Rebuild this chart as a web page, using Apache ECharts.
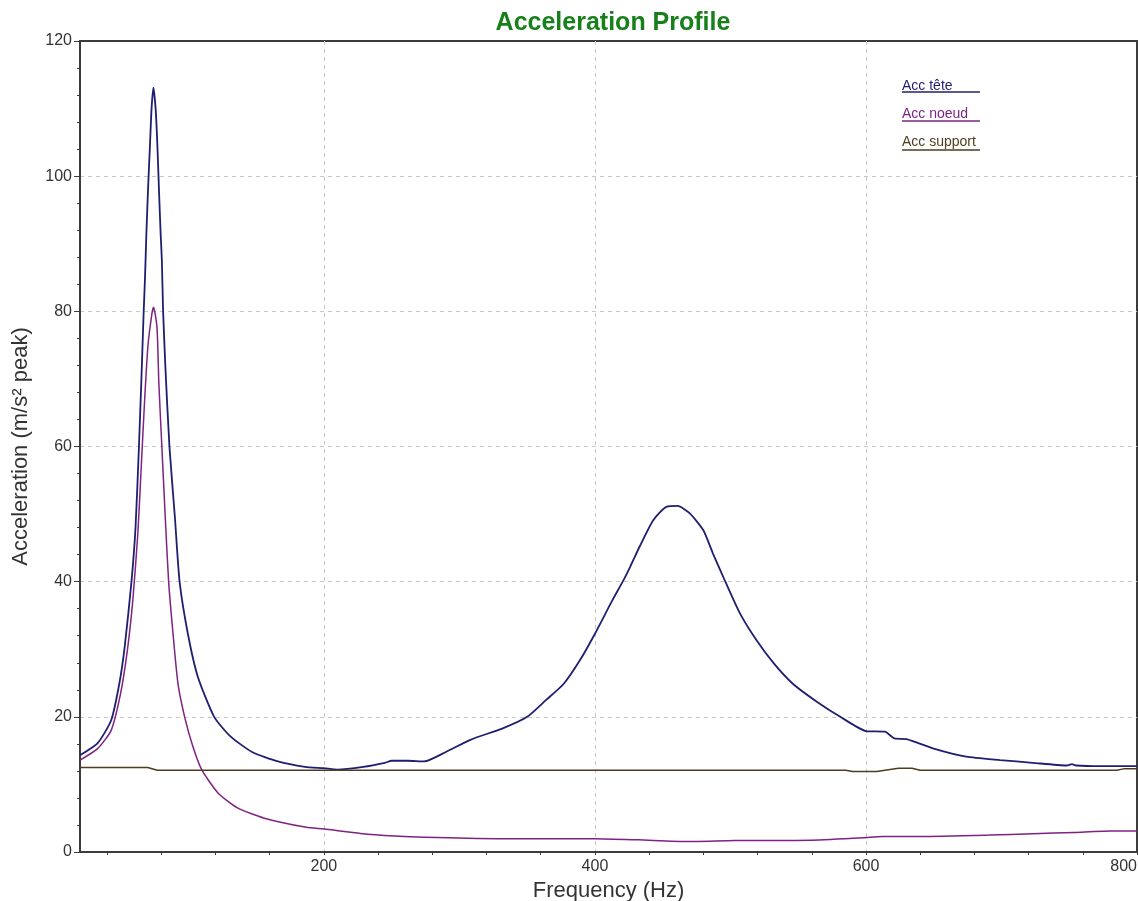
<!DOCTYPE html>
<html>
<head>
<meta charset="utf-8">
<title>Acceleration Profile</title>
<script src="https://cdn.jsdelivr.net/npm/echarts@6/dist/echarts.min.js"></script>
<style>
html, body { margin: 0; padding: 0; background: #fff; }
#chart { width: 1138px; height: 901px; }
</style>
</head>
<body>
<div id="chart"></div>
<script>
// Acc tête
const teteFreq = [20, 33, 43, 49, 53, 58, 61, 63.5, 65.2, 67, 68, 69, 70.4, 71.6, 72.8, 74.2, 75.8, 77, 78.2, 79.5, 80.4, 81.3, 83, 86, 90, 93.5, 99.6, 107, 119, 131, 147, 166, 186, 200, 210, 229, 245, 250, 262, 274, 290, 308, 332, 350, 364, 377, 389, 400, 413, 421, 426, 433, 443, 453, 461, 470, 480, 487, 496, 507, 519, 532, 546, 564, 581, 600, 614, 621, 630, 650, 674, 699, 723, 748, 752, 755, 773, 800];
const teteAcc = [14.3, 16.1, 19.5, 24.9, 30.4, 40, 48.1, 60, 69.3, 80, 85.1, 91.6, 99, 104.4, 110, 113.1, 110, 105.1, 98.4, 91.5, 87.6, 80.2, 71.8, 60, 49.6, 40, 32.3, 25.9, 20, 17.1, 14.8, 13.4, 12.6, 12.4, 12.2, 12.6, 13.2, 13.5, 13.5, 13.4, 14.8, 16.6, 18.3, 20, 22.5, 24.9, 28.4, 32.3, 37.3, 40.2, 42.2, 45.2, 49.1, 51.1, 51.2, 50.1, 47.6, 44.2, 40.1, 35.3, 31.4, 27.9, 24.9, 22.2, 20, 17.9, 17.8, 16.8, 16.7, 15.3, 14.1, 13.6, 13.2, 12.8, 13.0, 12.8, 12.7, 12.7];

// Acc noeud
const noeudFreq = [20, 33, 43, 50, 55, 59, 62.7, 65.2, 67.7, 70.1, 73.1, 74.3, 76.8, 78.2, 80.4, 82.9, 85.4, 88.6, 92.3, 97.2, 103.3, 110, 122, 136.5, 156, 187, 200, 227, 252, 274, 328, 400, 432, 469, 503, 560, 598, 612, 640, 691, 723, 754, 780, 800];
const noeudAcc = [13.6, 15.3, 18, 23.5, 29.9, 37.3, 47.2, 57, 66.9, 74.8, 79.7, 80.6, 77.7, 69.3, 60, 49.6, 40, 32.4, 24.9, 20, 15.6, 12.1, 8.7, 6.5, 5.0, 3.65, 3.4, 2.75, 2.37, 2.17, 1.97, 1.97, 1.8, 1.55, 1.7, 1.75, 2.1, 2.3, 2.3, 2.5, 2.7, 2.9, 3.1, 3.1];

// Acc support
const supportFreq = [20, 70, 77, 585, 590, 608, 614, 624, 634, 640, 785, 790, 800];
const supportAcc = [12.5, 12.5, 12.1, 12.1, 11.9, 11.9, 12.1, 12.4, 12.4, 12.1, 12.1, 12.3, 12.3];

const xLabels = [200, 400, 600, 800];
const xGridValues = [200, 400, 600];
const xTickValues = [];
for (let f = 40; f <= 800; f += 40) xTickValues.push(f);

const seriesNames = ['Acc tête', 'Acc noeud', 'Acc support'];
const colors = ['#1f1f70', '#7d2382', '#4e3d1e'];

const pairs = (xs, ys) => xs.map((x, i) => [x, ys[i]]);

const myChart = echarts.init(document.getElementById('chart'));

const font = 'Liberation Sans, Arial, sans-serif';
const dashStyle = { color: '#c8c8c8', type: [4, 4], width: 1 };

const option = {
	backgroundColor: '#fff',
	animation: false,
	color: colors,
	title: {
		text: 'Acceleration Profile',
		left: 608,
		textAlign: 'center',
		top: 6,
		textStyle: { color: '#17801a', fontSize: 25, fontWeight: 'bold', fontFamily: font },
	},
	legend: {
		orient: 'vertical',
		left: 892,
		top: 74,
		itemWidth: 0,
		itemHeight: 14,
		itemGap: 14,
		icon: 'rect',
		data: seriesNames.map((n, i) => ({ name: n, textStyle: { color: colors[i] } })),
		textStyle: { fontSize: 14, fontFamily: font },
	},
	grid: {
		left: 80,
		top: 41,
		right: 1,
		bottom: 49,
		show: true,
		borderColor: '#3c3c3c',
		borderWidth: 2,
		containLabel: false,
		outerBoundsMode: 'none',
	},
	xAxis: [
		{
			type: 'value',
			min: 20,
			max: 800,
			name: 'Frequency (Hz)',
			nameLocation: 'middle',
			nameGap: 24,
			nameTextStyle: { color: '#333', fontSize: 22, fontFamily: font },
			axisLine: { show: true, lineStyle: { color: '#3c3c3c', width: 2 } },
			axisTick: { show: true, length: 3, customValues: xTickValues, lineStyle: { color: '#3c3c3c' } },
			axisLabel: { customValues: xLabels, color: '#333', fontSize: 16, fontFamily: font, margin: 7, alignMaxLabel: 'right' },
			splitLine: { show: false },
		},
		{
			// grid lines only, at 200 / 400 / 600
			type: 'value',
			min: 20,
			max: 800,
			position: 'bottom',
			axisLine: { show: false },
			axisTick: { show: false, customValues: xGridValues },
			axisLabel: { show: false },
			splitLine: { show: true, showMinLine: true, showMaxLine: true, lineStyle: dashStyle },
		},
	],
	yAxis: {
		type: 'value',
		min: 0,
		max: 120,
		interval: 20,
		name: 'Acceleration (m/s² peak)',
		nameLocation: 'middle',
		nameGap: 48,
		nameTextStyle: { color: '#333', fontSize: 22, fontFamily: font },
		axisLine: { show: true, lineStyle: { color: '#3c3c3c', width: 2 } },
		axisTick: { show: true, length: 6, lineStyle: { color: '#3c3c3c' } },
		minorTick: { show: true, splitNumber: 5, length: 3, lineStyle: { color: '#3c3c3c' } },
		axisLabel: { color: '#333', fontSize: 16, fontFamily: font, margin: 8 },
		splitLine: { show: true, showMaxLine: false, lineStyle: dashStyle },
	},
	graphic: colors.map((c, i) => ({
		type: 'line',
		shape: { x1: 902, y1: 92 + i * 29, x2: 980, y2: 92 + i * 29 },
		style: { stroke: c, lineWidth: 1.5 },
	})),
	series: [
		{ name: seriesNames[0], type: 'line', showSymbol: false, smooth: 0.2, lineStyle: { width: 1.8 }, data: pairs(teteFreq, teteAcc) },
		{ name: seriesNames[1], type: 'line', showSymbol: false, smooth: 0.2, lineStyle: { width: 1.5 }, data: pairs(noeudFreq, noeudAcc) },
		{ name: seriesNames[2], type: 'line', showSymbol: false, lineStyle: { width: 1.5 }, data: pairs(supportFreq, supportAcc) },
	],
};
myChart.setOption(option);
</script>
</body>
</html>
